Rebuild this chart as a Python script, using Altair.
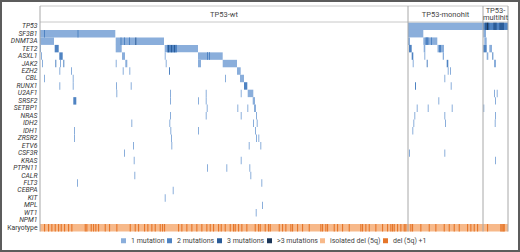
import altair as alt
import pandas as pd

# ---------------- data ----------------
genes = ["TP53", "SF3B1", "DNMT3A", "TET2", "ASXL1", "JAK2", "EZH2", "CBL", "RUNX1",
         "U2AF1", "SRSF2", "SETBP1", "NRAS", "IDH2", "IDH1", "ZRSR2", "ETV6", "CSF3R",
         "KRAS", "PTPN11", "CALR", "FLT3", "CEBPA", "KIT", "MPL", "WT1", "NPM1", "Karyotype"]

group_line1 = ["TP53-wt", "TP53-monohit", "TP53-"]
group_line2 = ["", "", "multihit"]
group_bounds = [0, 368, 443, 468]   # patient index (sorted columns)

legend_labels = ["1 mutation", "2 mutations", "3 mutations", ">3 mutations",
                 "isolated del (5q)", "del (5q) +1"]
legend_colors = ["#8aaedb", "#4f83c2", "#2b5c98", "#1c3658", "#f7b98a", "#e5762a"]

# (start, end, number of mutations: 1, 2, 3, 4 = >3)
TP53 = [(368, 443, 1), (443, 468, 2), (445, 449.3, 3), (453.3, 456.7, 3), (459.3, 464, 3), (447, 448, 4)]
SF3B1 = [(0, 75.3, 1), (4, 5, 2), (37.5, 38.5, 2), (368, 383.3, 1), (443.3, 446, 1)]
DNMT3A = [(0, 14, 1), (75.7, 124, 1), (80.5, 81.5, 2), (84, 85, 2), (89, 90, 2), (95.3, 96.3, 3),
          (368, 370, 1), (383.3, 397.3, 1), (385.5, 388.5, 2), (391, 392, 2), (444.3, 446.7, 1)]
TET2 = [(0, 1, 1), (14.7, 18.7, 2), (75.7, 81.7, 1), (124.7, 158, 1), (127, 137, 2), (128, 129, 3),
        (131, 132, 3), (134, 135, 3), (369, 371.7, 2), (383.7, 385.3, 1), (397.5, 404, 1),
        (399, 401, 2), (443.3, 446.7, 2), (449.3, 452, 1)]
ASXL1 = [(1, 2, 1), (19.3, 22.7, 2), (82, 85, 1), (124.7, 125.7, 1), (158, 182.7, 1), (167, 168, 2),
         (169, 170, 2), (371.7, 373.3, 2), (384.3, 385.3, 1), (402.7, 404, 1), (446.7, 448.3, 1),
         (452.3, 453.3, 2)]
JAK2 = [(2, 3, 1), (15.3, 16.3, 2), (20, 21, 1), (23.3, 24.3, 2), (75.7, 76.7, 1), (85.3, 87.3, 1),
        (125.7, 126.7, 1), (158, 161, 1), (182.7, 197, 1), (372.7, 373.7, 1), (386.7, 387.7, 2),
        (406.7, 408.3, 2), (454, 456, 1)]
EZH2 = [(19.3, 20.3, 1), (31, 32, 1), (82.7, 83.7, 1), (89.3, 90.3, 1), (129, 130, 2),
        (197, 200.7, 1), (407.7, 408.7, 1), (410, 411, 1)]
CBL = [(4, 5, 1), (32.7, 33.7, 1), (185, 186, 1), (200, 204, 1), (404.3, 405.3, 1)]
RUNX1 = [(19.3, 20.3, 1), (32.7, 33.7, 1), (76, 77, 1), (90.7, 91.7, 1), (204, 207.3, 2),
         (375, 376, 2), (410.7, 411.7, 1)]
U2AF1 = [(76.3, 77.3, 1), (130, 131, 1), (165.7, 166.7, 1), (200.7, 201.7, 1), (207.7, 213.3, 1),
         (454, 455, 1), (456.7, 457.7, 1)]
SRSF2 = [(33.3, 36.3, 2), (130, 131, 1), (158, 159, 1), (165.7, 166.7, 1), (212.7, 215, 1),
         (398.3, 399.3, 1), (455, 456, 1)]
SETBP1 = [(166.7, 167.7, 1), (197.3, 198.3, 1), (207.3, 208.3, 1), (214, 216, 1), (376.7, 377.7, 1),
          (387.7, 388.7, 1), (411.7, 412.7, 1), (443.3, 444.3, 1)]
NRAS = [(130, 131, 1), (165.7, 166.7, 1), (200.7, 201.7, 1), (216, 217, 1), (374.3, 375.3, 1),
        (404.3, 405.3, 1), (455, 456, 1)]
IDH2 = [(91.3, 92.3, 1), (129.3, 130.3, 1), (213, 214, 1), (216.7, 217.7, 1), (373.3, 374.3, 1),
        (405, 406, 1), (454.7, 455.7, 1)]
IDH1 = [(34, 35, 1), (130.3, 131.3, 1), (158, 159, 1), (215, 216, 1), (372.3, 373.3, 1)]
ZRSR2 = [(34, 35, 1), (131, 132, 1), (216, 217, 1), (218.3, 219.3, 1)]
ETV6 = [(93, 94, 1), (131.3, 132.3, 1), (208.7, 209.7, 1), (220.3, 221.3, 1)]
CSF3R = [(84, 85, 1), (369, 370, 1), (404.3, 405.3, 1)]
KRAS = [(93.7, 94.7, 1), (200.7, 201.7, 1), (455, 456, 1)]
PTPN11 = [(167, 168, 1), (186.3, 187.3, 1), (209.3, 210.3, 1)]
CALR = [(94.3, 95.3, 1), (210.3, 211.3, 1)]
FLT3 = [(37, 38, 1), (221.3, 222.3, 1)]
CEBPA = [(132.7, 133.7, 1)]
KIT = [(124.7, 125.7, 1)]
MPL = [(222, 223, 1)]
WT1 = [(215.7, 216.7, 1)]
NPM1 = []

# karyotype: columns with del(5q) + 1 other abnormality (rest: isolated del(5q))
karyo_plus = [4, 8, 11.3, 14.7, 18, 20.7, 24, 28, 31.3, 44.7, 46.3, 50.7, 53, 55.3, 58, 64.7, 69,
              76.3, 89.7, 94.7, 98, 104, 107.3, 111.3, 114.7, 119.7, 122, 124, 138, 141.3, 146.3,
              151.3, 156.3, 161.3, 166.3, 169.7, 173, 178, 180.7, 184.7, 189.7, 193, 194.7, 198,
              201.3, 206.3, 214.7, 218, 219.7, 224.7, 228, 229.7, 238.7, 242, 245.3, 250.3, 252,
              257, 262, 268.7, 280.3, 282, 285.3, 287, 293.7, 297, 302, 308.7, 320.3, 322, 325.3,
              328.7, 335.3, 342, 347, 350.3, 352, 353.7, 357, 360.3, 363.7, 365.3, 370.3, 372,
              380.3, 388.7, 395.3, 403.7, 408.7, 413.7, 418.7, 427, 430.3, 433.7, 437, 447,
              460.3, 461.5, 462.7, 463.7]

mutation_lists = {"TP53": TP53, "SF3B1": SF3B1, "DNMT3A": DNMT3A, "TET2": TET2, "ASXL1": ASXL1,
                  "JAK2": JAK2, "EZH2": EZH2, "CBL": CBL, "RUNX1": RUNX1, "U2AF1": U2AF1,
                  "SRSF2": SRSF2, "SETBP1": SETBP1, "NRAS": NRAS, "IDH2": IDH2, "IDH1": IDH1,
                  "ZRSR2": ZRSR2, "ETV6": ETV6, "CSF3R": CSF3R, "KRAS": KRAS, "PTPN11": PTPN11,
                  "CALR": CALR, "FLT3": FLT3, "CEBPA": CEBPA, "KIT": KIT, "MPL": MPL, "WT1": WT1,
                  "NPM1": NPM1}

# ---------------- table ----------------
rows = []
for level in (1, 2, 3, 4):          # lighter first, darker drawn on top
    for g, segs in mutation_lists.items():
        for s, e, n in segs:
            if n == level:
                rows.append({"gene": g, "x0": s, "x1": e, "level": legend_labels[n - 1]})
rows.append({"gene": "Karyotype", "x0": group_bounds[0], "x1": group_bounds[-1],
             "level": legend_labels[4]})
for k in karyo_plus:
    rows.append({"gene": "Karyotype", "x0": k, "x1": k + 1.1, "level": legend_labels[5]})
seg_df = pd.DataFrame(rows)

mids = [(group_bounds[i] + group_bounds[i + 1]) / 2 for i in range(3)]
single_df = pd.DataFrame({"name": [group_line1[i] for i in range(3) if not group_line2[i]],
                          "mid": [mids[i] for i in range(3) if not group_line2[i]]})
two1_df = pd.DataFrame({"name": [group_line1[i] for i in range(3) if group_line2[i]],
                        "mid": [mids[i] for i in range(3) if group_line2[i]]})
two2_df = pd.DataFrame({"name": [group_line2[i] for i in range(3) if group_line2[i]],
                        "mid": [mids[i] for i in range(3) if group_line2[i]]})
bound_df = pd.DataFrame({"b": group_bounds})
span_df = pd.DataFrame({"a": [group_bounds[0]], "z": [group_bounds[-1]]})

FONT = "Liberation Sans Narrow, Roboto, sans-serif"
W, H = 468, 209
xscale = alt.Scale(domain=[group_bounds[0], group_bounds[-1]], nice=False, zero=False)

frame = alt.Chart(span_df).mark_rect(fill=None, stroke="#5c5c5c", strokeWidth=2).encode(
    x=alt.value(-39), x2=alt.value(W + 11), y=alt.value(-21.5), y2=alt.value(H + 19.5))

cells = alt.Chart(seg_df).mark_rect(strokeWidth=0).encode(
    x=alt.X("x0:Q", scale=xscale, axis=None),
    x2="x1:Q",
    y=alt.Y("gene:N", sort=genes,
            scale=alt.Scale(domain=genes, paddingInner=0, paddingOuter=0),
            axis=alt.Axis(title=None, domain=False, ticks=False, labelFontSize=6.8,
                          labelFont=FONT, labelColor="#333", labelPadding=3,
                          labelFontStyle={"condition": {"test": "datum.value === 'Karyotype'",
                                                        "value": "normal"},
                                          "value": "italic"})),
    color=alt.Color("level:N",
                    scale=alt.Scale(domain=legend_labels, range=legend_colors),
                    legend=alt.Legend(orient="none", legendX=80, legendY=214.5,
                                      direction="horizontal", columns=6, title=None,
                                      symbolType="square", symbolSize=25,
                                      symbolStrokeWidth=0, labelFontSize=7, labelFont=FONT,
                                      labelColor="#444", labelOffset=4, columnPadding=1,
                                      padding=0)),
)

def header(df, yv):
    return alt.Chart(df).mark_text(fontSize=7.5, font=FONT, color="#444",
                                   baseline="middle").encode(
        x=alt.X("mid:Q", scale=xscale), y=alt.value(yv), text="name:N")

header_text = alt.layer(header(single_df, -8), header(two1_df, -11.8), header(two2_df, -4.2))

hlines = alt.layer(
    alt.Chart(span_df).mark_rule(color="#c8c8c8", strokeWidth=1).encode(
        x=alt.X("a:Q", scale=xscale), x2="z:Q", y=alt.value(-16.5)),
    alt.Chart(span_df).mark_rule(color="#c8c8c8", strokeWidth=1).encode(
        x=alt.X("a:Q", scale=xscale), x2="z:Q", y=alt.value(-0.5)),
)

vlines = alt.Chart(bound_df).mark_rule(color="#a8a8a8", strokeWidth=1).encode(
    x=alt.X("b:Q", scale=xscale), y=alt.value(-16.5), y2=alt.value(H))

chart = alt.layer(cells, hlines, vlines, header_text, frame).properties(
    width=W, height=H,
    autosize=alt.AutoSizeParams(type="none"),
    padding={"left": 40, "top": 22.5, "right": 12, "bottom": 20.5},
    background="white",
).configure_view(stroke=None)

chart.save("out.html", embed_options={"renderer": "svg", "actions": False})
